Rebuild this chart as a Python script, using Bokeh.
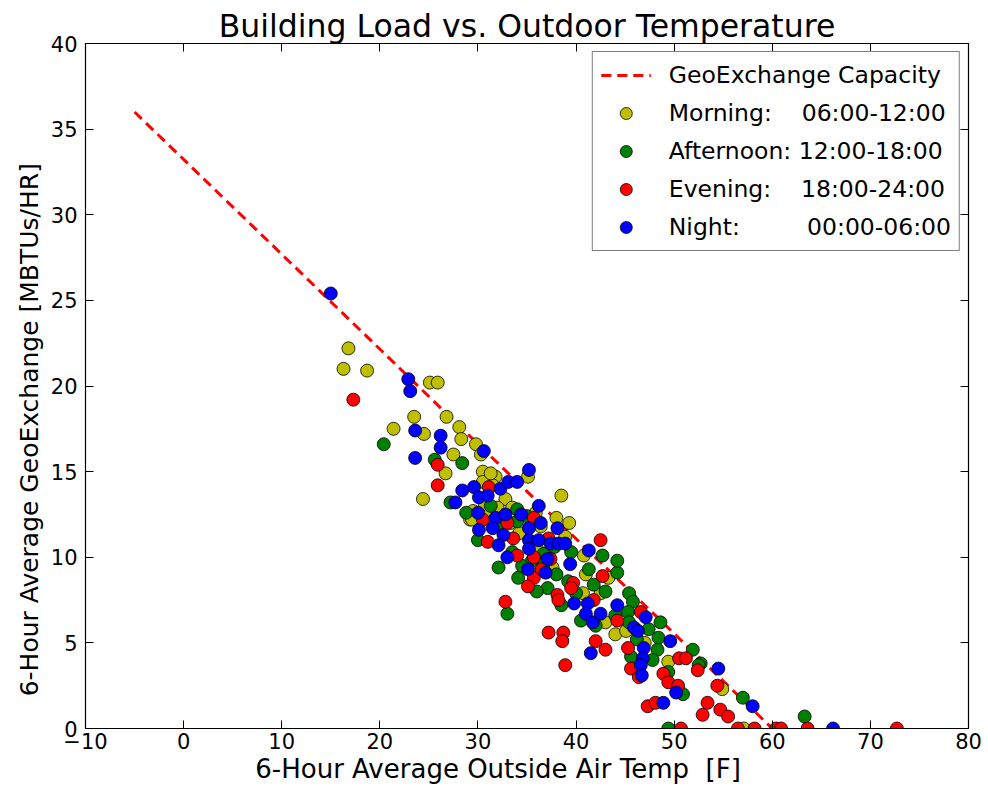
from bokeh.plotting import figure
from bokeh.models import (Range1d, FixedTicker, LinearAxis, Legend, LegendItem,
                          ColumnDataSource)
from bokeh.embed import file_html
from bokeh.resources import INLINE

# ---------------- data ----------------
cap_x = [-5, 60]
cap_y = [36, 0]

morning_x = [16.8, 16.3, 18.7, 25.1, 25.9, 23.5, 21.4, 24.5, 26.8, 28.1, 28.3, 29.8,
             27.5, 30.3, 26.7, 30.5, 31.8, 31.5, 30.5, 32.8, 24.4, 29.5, 32.0, 33.3,
             35.1, 38.5, 39.3, 38.9, 36.4, 40.8, 43.3, 42.5, 40.7, 44.0, 45.1, 49.4,
             54.9, 57.1, 30.7, 29.2, 34.2, 36.0, 37.6, 33.5, 31.2, 41.0, 47.0, 38.0,
             35.9, 29.4, 31.3, 43.0]
morning_y = [22.2, 21.0, 20.9, 20.2, 20.2, 18.2, 17.5, 17.2, 18.2, 17.6, 16.9, 16.6,
             16.0, 16.0, 14.9, 15.0, 14.7, 14.2, 14.4, 13.4, 13.4, 12.7, 12.9, 12.0,
             14.7, 13.6, 12.0, 11.2, 11.8, 10.1, 8.8, 7.9, 7.9, 5.5, 5.7, 3.9,
             2.3, 0.0, 13.1, 12.2, 11.4, 10.5, 9.4, 12.9, 12.5, 9.0, 5.0, 12.3,
             12.6, 12.2, 14.9, 6.2]

afternoon_x = [20.4, 25.6, 28.4, 27.2, 31.3, 34.0, 34.0, 30.0, 32.1, 36.7, 36.7, 34.1,
               37.1, 41.3, 42.7, 44.2, 45.4, 33.0, 40.5, 45.8, 45.3, 45.4, 47.4, 48.6,
               48.4, 48.3, 47.8, 45.6, 51.9, 52.7, 50.9, 49.4, 49.4, 52.5, 57.0, 63.3,
               44.2, 28.8, 33.5, 35.5, 38.0, 39.2, 40.0, 36.0, 43.0, 37.8, 31.9, 35.0,
               39.5, 41.8, 46.2, 44.0, 34.5, 38.5, 42.0]
afternoon_y = [16.6, 15.7, 15.5, 13.2, 13.0, 12.8, 12.1, 11.0, 9.4, 10.2, 9.6, 8.8,
               8.2, 9.3, 10.1, 9.1, 7.9, 6.7, 6.3, 7.4, 6.8, 6.2, 5.8, 6.2,
               5.3, 4.6, 4.0, 4.2, 4.6, 3.8, 2.0, 0.0, 3.3, 3.7, 1.8, 0.7,
               9.8, 12.6, 10.3, 9.8, 9.0, 8.6, 7.9, 8.0, 8.0, 10.6, 11.8, 12.4,
               10.3, 8.4, 5.2, 6.6, 9.5, 7.2, 6.0]

evening_x = [17.3, 25.9, 25.9, 31.1, 30.5, 31.0, 33.6, 35.7, 34.0, 35.7, 35.7, 35.1,
             39.7, 37.2, 42.5, 42.7, 38.1, 38.2, 41.8, 44.2, 46.6, 37.2, 38.7, 38.6,
             38.9, 42.0, 43.0, 45.3, 45.6, 46.4, 48.9, 49.4, 50.4, 50.5, 51.2, 52.4,
             47.3, 48.1, 53.4, 52.9, 54.7, 55.5, 54.4, 50.7, 56.5, 58.2, 60.4, 60.9,
             63.6, 72.7, 32.8, 37.4, 33.0, 39.5, 36.5]
evening_y = [19.2, 15.4, 14.2, 14.1, 12.2, 10.9, 11.1, 12.3, 10.1, 10.0, 8.8, 8.3,
             8.5, 11.1, 11.0, 8.9, 7.8, 7.5, 7.5, 6.3, 6.8, 5.6, 5.6, 5.1,
             3.7, 5.1, 4.6, 4.7, 3.5, 3.0, 3.2, 2.7, 2.5, 4.1, 4.1, 3.4,
             1.3, 1.5, 1.5, 0.8, 1.1, 0.7, 2.5, 0.0, 0.0, 0.0, 0.0, 0.0,
             0.0, 0.0, 7.4, 9.9, 12.0, 8.2, 9.3]

night_x = [15.0, 22.9, 23.1, 23.6, 23.6, 26.2, 26.2, 30.6, 35.2, 28.4, 29.6, 30.1,
           31.0, 32.3, 33.1, 34.0, 27.7, 30.0, 31.8, 32.8, 34.4, 36.2, 30.1, 31.5,
           32.6, 32.1, 33.0, 35.2, 35.2, 35.2, 36.2, 37.1, 35.1, 36.4, 38.1, 37.4,
           38.2, 38.9, 41.3, 39.4, 36.9, 39.8, 41.2, 41.0, 41.7, 42.5, 44.2, 47.1,
           45.9, 46.3, 46.9, 46.8, 46.6, 46.7, 41.5, 49.6, 50.2, 48.9, 54.5, 58.0, 66.2]
night_y = [25.4, 20.4, 19.7, 17.4, 15.8, 17.1, 16.4, 16.2, 15.1, 13.9, 14.1, 13.5,
           13.6, 14.0, 14.4, 14.4, 13.2, 12.6, 12.3, 12.5, 12.5, 13.0, 11.6, 11.7,
           11.3, 10.7, 10.0, 11.7, 11.0, 10.5, 11.0, 9.9, 9.3, 12.0, 11.7, 10.8,
           10.8, 10.8, 10.4, 9.6, 9.1, 7.3, 7.3, 6.7, 6.2, 6.7, 7.2, 6.5,
           5.9, 5.7, 4.7, 4.1, 3.7, 3.1, 4.4, 5.1, 2.1, 1.5, 3.5, 1.3, 0.0]

x_ticks = [-10, 0, 10, 20, 30, 40, 50, 60, 70, 80]
y_ticks = [0, 5, 10, 15, 20, 25, 30, 35, 40]

NB = "\u00a0"
labels = ["GeoExchange Capacity",
          "Morning:" + NB * 4 + "06:00-12:00",
          "Afternoon:" + NB + "12:00-18:00",
          "Evening:" + NB * 4 + "18:00-24:00",
          "Night:" + NB * 9 + "00:00-06:00"]

FONT = "DejaVu Sans"

p = figure(width=988, height=793, output_backend="svg", toolbar_location=None,
           x_range=Range1d(-10, 80), y_range=Range1d(0, 40),
           min_border_left=85, min_border_right=20, min_border_top=43,
           min_border_bottom=65)

p.title.text = "Building Load vs. Outdoor Temperature"
p.title.align = "center"
p.title.text_font = FONT
p.title.text_font_size = "31.5px"
p.title.text_font_style = "normal"
p.title.text_color = "black"
p.title.standoff = 0

p.xgrid.visible = False
p.ygrid.visible = False
p.outline_line_color = "black"
p.outline_line_width = 1.2
p.background_fill_color = "white"
p.border_fill_color = "white"

minus = "\u2212"
for ax, ticks in ((p.xaxis[0], x_ticks), (p.yaxis[0], y_ticks)):
    ax.ticker = FixedTicker(ticks=ticks)
    ax.minor_tick_line_color = None
    ax.major_tick_in = 8
    ax.major_tick_out = 0
    ax.major_label_text_font = FONT
    ax.major_label_text_font_size = "21px"
    ax.major_label_text_color = "black"
    ax.axis_label_text_font = FONT
    ax.axis_label_text_font_size = "25px"
    ax.axis_label_text_font_style = "normal"
    ax.axis_label_text_color = "black"
    ax.axis_line_color = "black"
    ax.major_tick_line_color = "black"
    ax.major_label_overrides = {t: (minus + str(-t) if t < 0 else str(t)) for t in ticks}

p.xaxis.axis_label = "6-Hour Average Outside Air Temp" + NB + " [F]" + NB * 7
p.xaxis.axis_label_text_font_size = "26px"
p.yaxis.axis_label = "6-Hour Average GeoExchange [MBTUs/HR]" + NB * 11
p.xaxis.major_label_standoff = 4
p.xaxis.axis_label_standoff = 2
p.yaxis.major_label_standoff = 8
p.yaxis.axis_label_standoff = 4

for loc, ticks in (("above", x_ticks), ("right", y_ticks)):
    ax = LinearAxis(ticker=FixedTicker(ticks=ticks), major_label_text_font_size="0px",
                    major_label_standoff=0, minor_tick_line_color=None,
                    major_tick_in=8, major_tick_out=0, axis_line_color="black",
                    major_tick_line_color="black")
    p.add_layout(ax, loc)

line_r = p.line(cap_x, cap_y, line_color="red", line_width=3, line_dash="10 6")

series = [(morning_x, morning_y, "#bfbf00"),
          (afternoon_x, afternoon_y, "#008000"),
          (evening_x, evening_y, "#ff0000"),
          (night_x, night_y, "#0000ff")]
renderers = [line_r]
for xs, ys, col in series:
    src = ColumnDataSource(dict(x=xs, y=ys))
    r = p.scatter("x", "y", source=src, size=13, fill_color=col,
                  line_color="black", line_width=0.8)
    renderers.append(r)

legend = Legend(items=[LegendItem(label=l, renderers=[r]) for l, r in zip(labels, renderers)],
                location="top_right")
legend.label_text_font = FONT
legend.label_text_font_size = "23.5px"
legend.label_text_color = "black"
legend.glyph_width = 50
legend.glyph_height = 30
legend.label_height = 30
legend.spacing = 8
legend.padding = 8
legend.margin = 8
legend.label_standoff = 18
legend.border_line_color = "black"
legend.border_line_width = 1.2
legend.background_fill_alpha = 1
p.add_layout(legend, "center")

open("out.html", "w").write(file_html(p, INLINE))
